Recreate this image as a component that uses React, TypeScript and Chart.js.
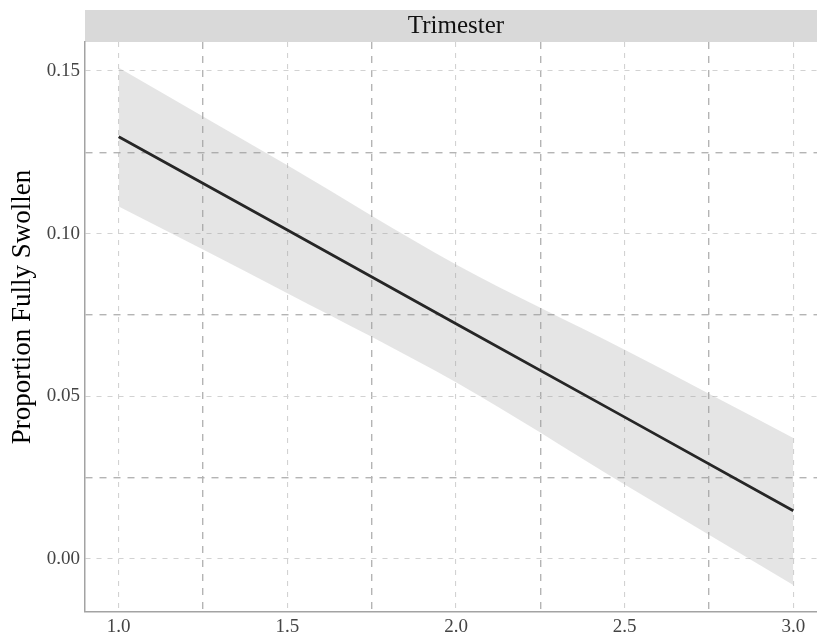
import React, { useEffect, useRef } from 'react';
import { Chart, registerables } from 'chart.js';

Chart.register(...registerables);

// ---- data ----
const xValues = [1.0, 1.5, 2.0, 2.5, 3.0];
const fitValues = [0.1298, 0.1011, 0.0723, 0.0436, 0.0148];
const upperValues = [0.151, 0.121, 0.0905, 0.0643, 0.0372];
const lowerValues = [0.1083, 0.0817, 0.0543, 0.0229, -0.008];

const xMajorTicks = [1.0, 1.5, 2.0, 2.5, 3.0];
const xMinorTicks = [1.25, 1.75, 2.25, 2.75];
const xTickLabels = ['1.0', '1.5', '2.0', '2.5', '3.0'];
const yMajorTicks = [0, 0.05, 0.1, 0.15];
const yMinorTicks = [0.025, 0.075, 0.125];
const yTickLabels = ['0.00', '0.05', '0.10', '0.15'];

const facetLabel = 'Trimester';
const yAxisTitle = 'Proportion Fully Swollen';

const SERIF = '"Liberation Serif", "Times New Roman", serif';

const near = (a: number, b: number) => Math.abs(a - b) < 1e-9;
const isIn = (v: number, arr: number[]) => arr.some((m) => near(m, v));

const gridColor = (majors: number[]) => (ctx: any) =>
  ctx.tick && isIn(ctx.tick.value, majors) ? '#d2d2d2' : '#b4b4b4';
const gridWidth = (majors: number[]) => (ctx: any) =>
  ctx.tick && isIn(ctx.tick.value, majors) ? 1.1 : 1.4;
const gridDash = (majors: number[]) => (ctx: any) => {
  if (ctx.type !== 'tick' || !ctx.tick) return [];
  return isIn(ctx.tick.value, majors) ? [5, 6] : [7, 7];
};

const decorPlugin = {
  id: 'facetDecor',
  beforeDraw(chart: any) {
    const { ctx, chartArea } = chart;
    const stripH = 32;
    ctx.save();
    ctx.fillStyle = '#d9d9d9';
    ctx.fillRect(chartArea.left, chartArea.top - stripH, chartArea.right - chartArea.left, stripH);
    ctx.fillStyle = '#111111';
    ctx.font = `25px ${SERIF}`;
    ctx.textAlign = 'center';
    ctx.textBaseline = 'middle';
    ctx.fillText(facetLabel, (chartArea.left + chartArea.right) / 2, chartArea.top - stripH / 2);
    const cy = (chartArea.top - stripH + chartArea.bottom) / 2 - 4;
    ctx.translate(23, cy);
    ctx.rotate(-Math.PI / 2);
    ctx.font = `27px ${SERIF}`;
    ctx.fillStyle = '#000';
    ctx.fillText(yAxisTitle, 0, 0);
    ctx.restore();
  },
};

export default function App() {
  const canvasRef = useRef<HTMLCanvasElement | null>(null);

  useEffect(() => {
    if (!canvasRef.current) return;
    const toPts = (ys: number[]) => xValues.map((x, i) => ({ x, y: ys[i] }));
    const chart = new Chart(canvasRef.current, {
      type: 'line',
      data: {
        datasets: [
          {
            label: 'upper',
            data: toPts(upperValues),
            borderColor: 'rgba(0,0,0,0)',
            borderWidth: 0,
            pointRadius: 0,
            backgroundColor: 'rgba(153,153,153,0.25)',
            fill: '+1',
            cubicInterpolationMode: 'monotone',
          },
          {
            label: 'lower',
            data: toPts(lowerValues),
            borderColor: 'rgba(0,0,0,0)',
            borderWidth: 0,
            pointRadius: 0,
            fill: false,
            cubicInterpolationMode: 'monotone',
          },
          {
            label: 'fit',
            data: toPts(fitValues),
            borderColor: '#000000',
            borderWidth: 2.8,
            pointRadius: 0,
            fill: false,
            tension: 0,
          },
        ],
      },
      options: {
        animation: false,
        responsive: true,
        maintainAspectRatio: false,
        layout: { padding: { top: 42, left: 0, right: 0, bottom: 0 } },
        plugins: {
          legend: { display: false },
          tooltip: { enabled: false },
          title: { display: false },
        },
        scales: {
          x: {
            type: 'linear',
            min: 0.9,
            max: 3.1,
            afterBuildTicks: (scale: any) => {
              scale.ticks = [...xMajorTicks, ...xMinorTicks]
                .sort((a, b) => a - b)
                .map((v) => ({ value: v }));
            },
            afterFit: (scale: any) => {
              scale.height = 23;
            },
            ticks: {
              autoSkip: false,
              maxRotation: 0,
              padding: 4,
              color: '#444444',
              font: { family: SERIF, size: 19 },
              callback: (value: any) => {
                const i = xMajorTicks.findIndex((m) => near(m, Number(value)));
                return i >= 0 ? xTickLabels[i] : '';
              },
            },
            grid: {
              drawTicks: false,
              color: gridColor(xMajorTicks),
              lineWidth: gridWidth(xMajorTicks),
            },
            border: {
              display: true,
              color: '#a3a3a3',
              width: 1.5,
              dash: gridDash(xMajorTicks),
            },
          },
          y: {
            type: 'linear',
            position: 'left',
            min: -0.0163,
            max: 0.1589,
            afterBuildTicks: (scale: any) => {
              scale.ticks = [...yMajorTicks, ...yMinorTicks]
                .sort((a, b) => a - b)
                .map((v) => ({ value: v }));
            },
            afterFit: (scale: any) => {
              scale.width = 85;
            },
            ticks: {
              autoSkip: false,
              padding: 5,
              color: '#444444',
              font: { family: SERIF, size: 19 },
              callback: (value: any) => {
                const i = yMajorTicks.findIndex((m) => near(m, Number(value)));
                return i >= 0 ? yTickLabels[i] : '';
              },
            },
            grid: {
              drawTicks: false,
              color: gridColor(yMajorTicks),
              lineWidth: gridWidth(yMajorTicks),
            },
            border: {
              display: true,
              color: '#a3a3a3',
              width: 1.5,
              dash: gridDash(yMajorTicks),
            },
          },
        },
      },
      plugins: [decorPlugin],
    } as any);
    return () => chart.destroy();
  }, []);

  return (
    <div
      style={{
        position: 'fixed',
        left: 0,
        top: 0,
        width: 817,
        height: 635,
        overflow: 'hidden',
        background: '#fff',
      }}
    >
      <div style={{ position: 'relative', width: 827, height: 635 }}>
        <canvas ref={canvasRef} />
      </div>
    </div>
  );
}
